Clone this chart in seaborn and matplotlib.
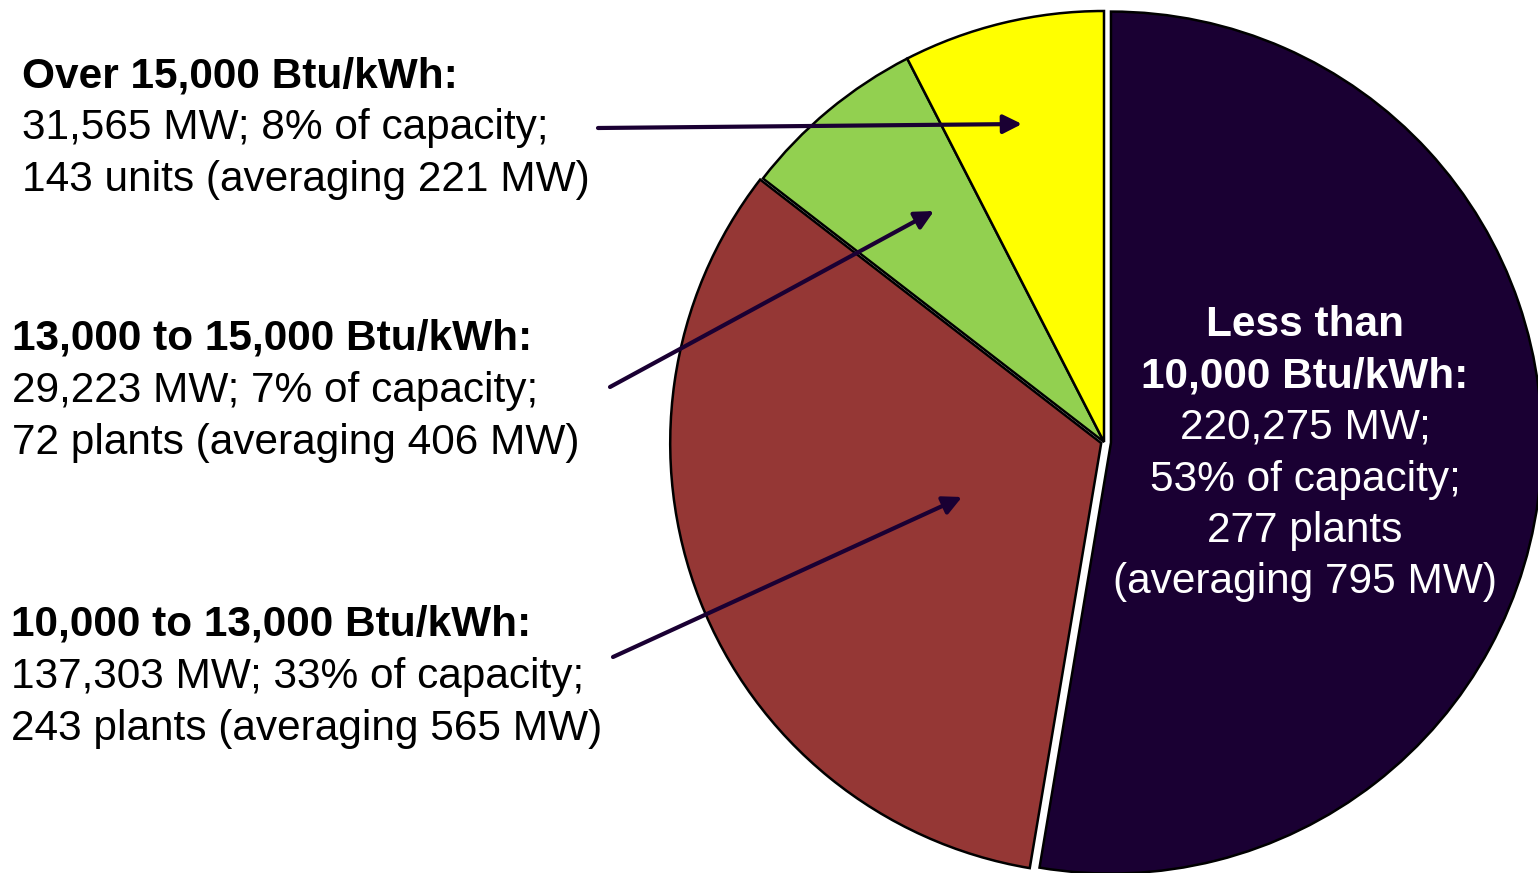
import matplotlib
matplotlib.use('Agg')
import matplotlib.pyplot as plt
import seaborn as sns

# Capacity by heat rate band (MW), clockwise from 12 o'clock
bands = ['Less than 10,000', '10,000 to 13,000', '13,000 to 15,000', 'Over 15,000']
capacity_mw = [220275, 137303, 29223, 31565]
slice_colors = ['#1a0033', '#953735', '#92d050', '#ffff00']

# Left-hand callouts (bold heading + two lines)
left_heads = ['Over 15,000 Btu/kWh:', '13,000 to 15,000 Btu/kWh:', '10,000 to 13,000 Btu/kWh:']
left_lines = [
    ['31,565 MW; 8% of capacity;', '143 units (averaging 221 MW)'],
    ['29,223 MW; 7% of capacity;', '72 plants (averaging 406 MW)'],
    ['137,303 MW; 33% of capacity;', '243 plants (averaging 565 MW)'],
]
# Label inside the big slice
inner_heads = ['Less than', '10,000 Btu/kWh:']
inner_lines = ['220,275 MW;', '53% of capacity;', '277 plants', '(averaging 795 MW)']

sns.set_style('white')
plt.rcParams['font.family'] = ['Liberation Sans', 'DejaVu Sans']
plt.rcParams['text.color'] = 'black'

W, H = 1538, 873
fig = plt.figure(figsize=(W / 100, H / 100), dpi=100)
ax = fig.add_axes([0, 0, 1, 1])

# explode offsets are in data units here (pixels)
ax.pie(capacity_mw, colors=slice_colors, explode=[7, 3, 0, 0], startangle=90,
       counterclock=False, center=(1104, H - 442), radius=431,
       wedgeprops=dict(edgecolor='black', linewidth=1.8))

# pie() resets the limits, so set them afterwards
ax.set_xlim(0, W)
ax.set_ylim(0, H)
ax.set_aspect('equal')
ax.axis('off')

fs = 30.5
step = 52
dark = '#1a0033'

# left labels
left_x = [22, 12, 11]
left_top = [76, 339, 625]
for head, lines, x0, y0 in zip(left_heads, left_lines, left_x, left_top):
    ax.text(x0, H - y0, head, fontsize=fs, fontweight='bold', va='center', ha='left')
    for i, ln in enumerate(lines):
        ax.text(x0, H - (y0 + step * (i + 1)), ln, fontsize=fs, va='center', ha='left')

# inner label
cx, cy = 1305, 325
for i, ln in enumerate(inner_heads):
    ax.text(cx, H - (cy + 51.5 * i), ln, fontsize=fs, fontweight='bold', color='white',
            va='center', ha='center')
for i, ln in enumerate(inner_lines):
    ax.text(cx, H - (cy + 51.5 * (i + 2)), ln, fontsize=fs, color='white',
            va='center', ha='center')

# arrows
arrows = [((598, 128), (1022, 124)), ((610, 387), (934, 211)), ((613, 657), (962, 497))]
for (x0, y0), (x1, y1) in arrows:
    ax.annotate('', xy=(x1, H - y1), xytext=(x0, H - y0),
                arrowprops=dict(arrowstyle='-|>', color=dark, lw=3, mutation_scale=28,
                                shrinkA=0, shrinkB=0))

plt.savefig('out.png', dpi=100)
